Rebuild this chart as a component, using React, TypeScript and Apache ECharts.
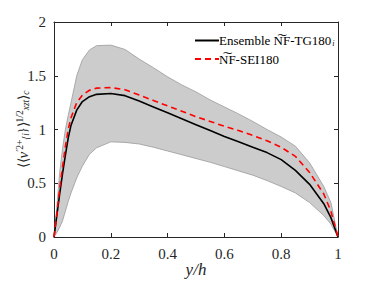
import React, { useEffect, useRef } from "react";
import * as echarts from "echarts";

const yh = [0, 0.01, 0.02, 0.03, 0.04, 0.05, 0.06, 0.08, 0.1, 0.125, 0.15, 0.2, 0.25, 0.3, 0.35, 0.4, 0.45, 0.5, 0.55, 0.6, 0.65, 0.7, 0.75, 0.8, 0.85, 0.9, 0.95, 0.975, 1];
const ensembleMean = [0, 0.2, 0.4, 0.59, 0.76, 0.92, 1.04, 1.18, 1.26, 1.305, 1.327, 1.335, 1.315, 1.265, 1.21, 1.155, 1.1, 1.045, 0.99, 0.935, 0.885, 0.835, 0.785, 0.72, 0.62, 0.49, 0.31, 0.18, 0];
const sei180 = [0, 0.22, 0.45, 0.65, 0.84, 1.0, 1.11, 1.25, 1.32, 1.365, 1.385, 1.39, 1.37, 1.32, 1.27, 1.22, 1.17, 1.12, 1.075, 1.03, 0.99, 0.945, 0.895, 0.835, 0.75, 0.6, 0.4, 0.24, 0];
const bandUpper = [0, 0.28, 0.6, 0.82, 1.0, 1.13, 1.25, 1.5, 1.65, 1.74, 1.78, 1.785, 1.745, 1.655, 1.575, 1.49, 1.415, 1.35, 1.275, 1.21, 1.145, 1.075, 1.0, 0.93, 0.845, 0.69, 0.47, 0.32, 0];
const bandLower = [0, 0.04, 0.09, 0.15, 0.24, 0.33, 0.41, 0.55, 0.66, 0.77, 0.83, 0.885, 0.88, 0.865, 0.835, 0.8, 0.765, 0.73, 0.695, 0.655, 0.615, 0.575, 0.525, 0.47, 0.41, 0.32, 0.2, 0.12, 0];

const serif = "Liberation Serif";
const axisColor = "#262626";

export default function App() {
  const ref = useRef<HTMLDivElement>(null);
  useEffect(() => {
    if (!ref.current) return;
    const chart = echarts.init(ref.current, undefined, { renderer: "svg" });
    const pairs = (vals: number[]) => yh.map((x, i) => [x, vals[i]]);
    const fmtNum = (v: number) => String(v);
    const baseX = {
      type: "value",
      min: 0,
      max: 1,
      interval: 0.2,
      splitLine: { show: false },
      axisLine: { show: true, onZero: false, lineStyle: { color: axisColor, width: 1 } },
      axisTick: { show: true, inside: true, length: 4, lineStyle: { color: axisColor } },
    };
    const baseY = {
      type: "value",
      min: 0,
      max: 2,
      interval: 0.5,
      splitLine: { show: false },
      axisLine: { show: true, onZero: false, lineStyle: { color: axisColor, width: 1 } },
      axisTick: { show: true, inside: true, length: 4, lineStyle: { color: axisColor } },
    };
    chart.setOption({
      animation: false,
      backgroundColor: "#ffffff",
      textStyle: { fontFamily: serif },
      grid: { left: 54, right: 36, top: 22, bottom: 44, containLabel: false, outerBoundsMode: "none" },
      legend: {
        show: true,
        orient: "vertical",
        left: 189,
        top: 29,
        itemWidth: 24,
        itemHeight: 12,
        itemGap: 5,
        data: [
          { name: "Ensemble", itemStyle: { opacity: 0 } },
          { name: "SEI180", itemStyle: { opacity: 0 } },
        ],
        formatter: (name: string) =>
          name === "Ensemble"
            ? "{t|Ensemble N\u0360F-TG180}{s|i}"
            : "{t|N\u0360F-SEI180}",
        textStyle: {
          fontFamily: serif,
          fontSize: 13,
          color: "#000",
          padding: [0, 0, 0, -5],
          rich: {
            t: { fontFamily: serif, fontSize: 13, color: "#000", lineHeight: 14 },
            s: { fontFamily: serif, fontStyle: "italic", fontSize: 8, color: "#000", lineHeight: 14, verticalAlign: "bottom", padding: [5, 0, 0, 1] },
          },
        },
      },
      xAxis: [
        {
          ...baseX,
          position: "bottom",
          name: "y/h",
          nameLocation: "middle",
          nameGap: 24,
          nameMoveOverlap: false,
          nameTextStyle: { fontFamily: serif, fontStyle: "italic", fontSize: 17, color: axisColor },
          axisLabel: { fontFamily: serif, fontSize: 15, color: axisColor, margin: 9, formatter: fmtNum },
        },
        {
          ...baseX,
          position: "top",
          axisLabel: { show: false },
        },
      ],
      yAxis: [
        {
          ...baseY,
          position: "left",
          name: "{a|\u27E8\u27E8}{it|v}{sup|\u20322+}{sub|{i}}{a|\u27E9}{sup|1/2}{sub|xzt}{a|\u27E9}{sub|c}",
          nameLocation: "middle",
          nameGap: 23,
          nameRotate: 90,
          nameMoveOverlap: false,
          nameTextStyle: {
            fontFamily: serif,
            color: axisColor,
            rich: {
              a: { fontFamily: serif, fontSize: 14, color: axisColor },
              it: { fontFamily: serif, fontStyle: "italic", fontSize: 15, color: axisColor },
              sup: { fontFamily: serif, fontSize: 9.5, color: axisColor, verticalAlign: "top", padding: [0, 0, 6, 0] },
              sub: { fontFamily: serif, fontStyle: "italic", fontSize: 9.5, color: axisColor, verticalAlign: "bottom", padding: [6, 0, 0, 0] },
            },
          },
          axisLabel: { fontFamily: serif, fontSize: 15, color: axisColor, margin: 8, formatter: fmtNum },
        },
        {
          ...baseY,
          position: "right",
          axisLabel: { show: false },
        },
      ],
      series: [
        {
          name: "band",
          type: "custom",
          silent: true,
          z: 1,
          data: yh.map((x, i) => [x, bandLower[i], bandUpper[i]]),
          encode: { x: 0, y: [1, 2] },
          renderItem: (params: any, api: any) => {
            if (params.dataIndex !== 0) return null;
            const pts: number[][] = [];
            for (let i = 0; i < yh.length; i++) pts.push(api.coord([yh[i], bandUpper[i]]));
            for (let i = yh.length - 1; i >= 0; i--) pts.push(api.coord([yh[i], bandLower[i]]));
            return {
              type: "polygon",
              shape: { points: pts, smooth: 0 },
              style: { fill: "#cccccc", stroke: "none" },
            };
          },
        },
        {
          name: "upperEdge",
          type: "line",
          data: pairs(bandUpper),
          symbol: "none",
          lineStyle: { color: "#9a9a9a", width: 0.8 },
          silent: true,
          z: 2,
        },
        {
          name: "lowerEdge",
          type: "line",
          data: pairs(bandLower),
          symbol: "none",
          lineStyle: { color: "#9a9a9a", width: 0.8 },
          silent: true,
          z: 2,
        },
        {
          name: "Ensemble",
          type: "line",
          data: pairs(ensembleMean),
          symbol: "none",
          lineStyle: { color: "#000000", width: 1.6 },
          itemStyle: { color: "#000000" },
          z: 3,
        },
        {
          name: "SEI180",
          type: "line",
          data: pairs(sei180),
          symbol: "none",
          lineStyle: { color: "#ff0000", width: 1.6, type: [6, 4] },
          itemStyle: { color: "#ff0000" },
          z: 4,
        },
      ],
    });
    return () => chart.dispose();
  }, []);
  return <div ref={ref} style={{ width: 374, height: 281, position: "absolute", left: 0, top: 0 }} />;
}
